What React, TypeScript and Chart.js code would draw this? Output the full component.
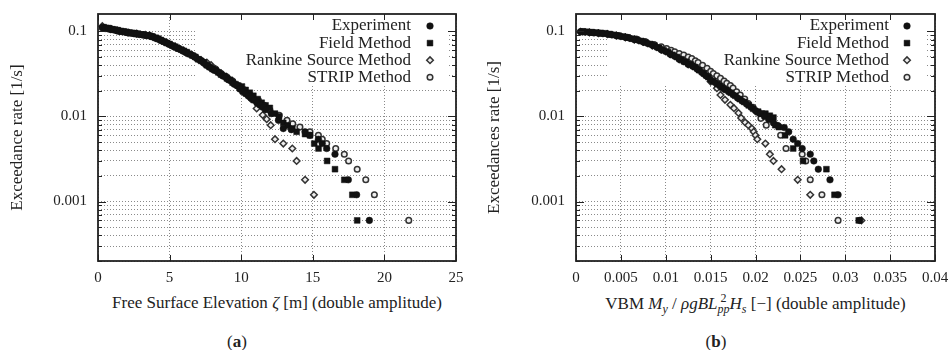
import React, { useEffect, useRef } from 'react';
import { Chart, registerables } from 'chart.js';

Chart.register(...registerables);

const FONT = '"Liberation Serif", "Times New Roman", serif';
const TEXT = '#222';
const GRID = '#8a8a8a';

// ---- axes ----
const X_TICKS_A = [0, 5, 10, 15, 20, 25];
const X_TICKS_B = [0, 0.005, 0.01, 0.015, 0.02, 0.025, 0.03, 0.035, 0.04];
const Y_MIN = 0.0002;
const Y_MAX = 0.16;
const Y_LABELS = [0.001, 0.01, 0.1];
const Y_GRID = [
  0.0002, 0.0003, 0.0004, 0.0005, 0.0006, 0.0007, 0.0008, 0.0009,
  0.001, 0.002, 0.003, 0.004, 0.005, 0.006, 0.007, 0.008, 0.009,
  0.01, 0.02, 0.03, 0.04, 0.05, 0.06, 0.07, 0.08, 0.09, 0.1,
];

const SERIES_NAMES = ['Experiment', 'Field Method', 'Rankine Source Method', 'STRIP Method'];

// ---- panel (a): free surface elevation ----
const EXP_A_X = [0.3, 0.5, 0.7, 0.9, 1.1, 1.3, 1.5, 1.7, 1.9, 2.1, 2.3, 2.5, 2.7, 2.9, 3.1, 3.3, 3.5, 3.7, 3.9, 4.1, 4.3, 4.5, 4.7, 4.9, 5.1, 5.3, 5.5, 5.7, 5.9, 6.1, 6.3, 6.5, 6.7, 6.9, 7.1, 7.3, 7.5, 7.7, 7.9, 8.1, 8.3, 8.5, 8.7, 8.9, 9.1, 9.3, 9.5, 9.7, 9.9, 10.1, 10.3, 10.5, 10.7, 10.9, 11.1, 11.3, 11.5, 11.7, 12.1, 12.6, 12.94, 13.5, 14.46, 14.8, 15.39, 15.66, 15.97, 16.55, 17.48, 18.06, 18.95];
const EXP_A_Y = [0.110, 0.108, 0.107, 0.105, 0.104, 0.102, 0.100, 0.099, 0.098, 0.096, 0.095, 0.094, 0.093, 0.092, 0.091, 0.090, 0.089, 0.087, 0.085, 0.082, 0.080, 0.077, 0.074, 0.072, 0.069, 0.066, 0.064, 0.062, 0.059, 0.057, 0.055, 0.053, 0.051, 0.048, 0.046, 0.044, 0.041, 0.039, 0.037, 0.035, 0.034, 0.032, 0.030, 0.029, 0.027, 0.026, 0.024, 0.023, 0.021, 0.0195, 0.0185, 0.0174, 0.0164, 0.0155, 0.0144, 0.0136, 0.0128, 0.0120, 0.0108, 0.0090, 0.0072, 0.0070, 0.0066, 0.0060, 0.0054, 0.0048, 0.0042, 0.0036, 0.0018, 0.0012, 0.0006];

const FIELD_A_X = [0.4, 0.6, 0.8, 1.0, 1.2, 1.4, 1.6, 1.8, 2.0, 2.2, 2.4, 2.6, 2.8, 3.0, 3.2, 3.4, 3.6, 3.8, 4.0, 4.2, 4.4, 4.6, 4.8, 5.0, 5.2, 5.4, 5.6, 5.8, 6.0, 6.2, 6.4, 6.6, 6.8, 7.0, 7.2, 7.4, 7.6, 7.8, 8.0, 8.2, 8.4, 8.6, 8.8, 9.0, 9.2, 9.4, 9.6, 9.8, 10.05, 10.31, 10.6, 10.85, 11.15, 11.43, 11.7, 12.0, 12.36, 12.64, 12.94, 13.24, 13.57, 13.87, 14.46, 14.8, 15.1, 15.4, 16.0, 16.55, 17.2, 17.76, 18.1];
const FIELD_A_Y = [0.112, 0.110, 0.108, 0.106, 0.105, 0.103, 0.101, 0.100, 0.098, 0.097, 0.096, 0.095, 0.094, 0.092, 0.091, 0.090, 0.089, 0.087, 0.084, 0.082, 0.079, 0.076, 0.073, 0.071, 0.068, 0.066, 0.063, 0.061, 0.059, 0.057, 0.054, 0.052, 0.050, 0.047, 0.045, 0.043, 0.040, 0.038, 0.036, 0.035, 0.033, 0.031, 0.030, 0.028, 0.027, 0.025, 0.024, 0.023, 0.0225, 0.0205, 0.0190, 0.0175, 0.0160, 0.0145, 0.0135, 0.0126, 0.0108, 0.0100, 0.0084, 0.0078, 0.0072, 0.0066, 0.0062, 0.0060, 0.0048, 0.0042, 0.0030, 0.0024, 0.0018, 0.0012, 0.0006];

const RANK_A_X = [0.3, 0.9, 1.5, 2.1, 2.7, 3.3, 3.6, 4.2, 4.8, 5.4, 6.0, 6.6, 7.2, 7.6, 7.9, 8.2, 8.6, 9.0, 9.4, 9.92, 10.27, 10.7, 11.08, 11.5, 11.78, 12.06, 12.36, 12.94, 13.57, 13.87, 14.46, 15.08];
const RANK_A_Y = [0.115, 0.107, 0.101, 0.097, 0.094, 0.091, 0.090, 0.082, 0.074, 0.066, 0.059, 0.052, 0.046, 0.043, 0.040, 0.036, 0.032, 0.029, 0.026, 0.0220, 0.0192, 0.0160, 0.0124, 0.0104, 0.0093, 0.0079, 0.0054, 0.0048, 0.0042, 0.0030, 0.0018, 0.0012];

const STRIP_A_X = [0.35, 0.8, 1.4, 2.0, 2.6, 3.2, 3.8, 4.4, 5.0, 5.6, 6.2, 6.8, 7.4, 7.8, 8.2, 8.6, 9.0, 9.4, 9.8, 10.2, 10.6, 11.2, 11.6, 12.0, 12.66, 13.2, 13.6, 14.1, 14.8, 15.39, 15.66, 15.97, 16.6, 17.2, 17.5, 18.1, 18.7, 19.3, 21.7];
const STRIP_A_Y = [0.112, 0.107, 0.101, 0.097, 0.094, 0.091, 0.087, 0.078, 0.070, 0.063, 0.056, 0.050, 0.043, 0.040, 0.036, 0.032, 0.029, 0.026, 0.023, 0.0205, 0.0180, 0.0155, 0.0135, 0.0119, 0.0103, 0.0090, 0.0082, 0.0075, 0.0066, 0.0060, 0.0054, 0.0048, 0.0042, 0.0036, 0.0030, 0.0024, 0.0018, 0.0012, 0.0006];

// ---- panel (b): vertical bending moment ----
const EXP_B_X = [0.0005, 0.001, 0.0015, 0.002, 0.0025, 0.003, 0.0035, 0.004, 0.0045, 0.005, 0.0055, 0.006, 0.0065, 0.007, 0.0075, 0.008, 0.0085, 0.009, 0.0095, 0.01, 0.0105, 0.011, 0.0115, 0.012, 0.0125, 0.013, 0.0135, 0.014, 0.0145, 0.015, 0.0155, 0.016, 0.0165, 0.017, 0.0175, 0.018, 0.0185, 0.019, 0.0195, 0.02, 0.0205, 0.021, 0.0215, 0.022, 0.0225, 0.0232, 0.0237, 0.0242, 0.0247, 0.0252, 0.0261, 0.0265, 0.027, 0.0283, 0.0292, 0.0316];
const EXP_B_Y = [0.099, 0.098, 0.097, 0.096, 0.095, 0.094, 0.093, 0.091, 0.089, 0.087, 0.085, 0.083, 0.080, 0.078, 0.075, 0.072, 0.069, 0.065, 0.061, 0.058, 0.054, 0.051, 0.047, 0.044, 0.041, 0.039, 0.036, 0.033, 0.030, 0.027, 0.025, 0.023, 0.021, 0.0195, 0.018, 0.0165, 0.0152, 0.014, 0.0128, 0.0117, 0.0108, 0.0100, 0.0092, 0.0084, 0.0078, 0.0074, 0.0066, 0.0054, 0.0048, 0.0042, 0.0036, 0.0030, 0.0024, 0.0018, 0.0012, 0.0006];

const FIELD_B_X = [0.00075, 0.00125, 0.00175, 0.00225, 0.00275, 0.00325, 0.00375, 0.00425, 0.00475, 0.00525, 0.00575, 0.00625, 0.00675, 0.00725, 0.00775, 0.00825, 0.00875, 0.00925, 0.00975, 0.01025, 0.01075, 0.01125, 0.01175, 0.01225, 0.01275, 0.01325, 0.01375, 0.01425, 0.01475, 0.01525, 0.01575, 0.01625, 0.01675, 0.01725, 0.01775, 0.01825, 0.01875, 0.01925, 0.01975, 0.0203, 0.0207, 0.0211, 0.0216, 0.022, 0.0222, 0.0226, 0.0233, 0.0242, 0.0253, 0.0279, 0.0288, 0.0315];
const FIELD_B_Y = [0.100, 0.099, 0.098, 0.097, 0.096, 0.095, 0.093, 0.091, 0.089, 0.087, 0.085, 0.082, 0.080, 0.077, 0.074, 0.071, 0.068, 0.064, 0.060, 0.057, 0.053, 0.050, 0.047, 0.044, 0.041, 0.038, 0.035, 0.032, 0.029, 0.026, 0.024, 0.022, 0.0205, 0.019, 0.0175, 0.016, 0.0148, 0.0135, 0.0123, 0.0114, 0.0108, 0.0108, 0.0102, 0.0097, 0.0079, 0.0075, 0.0060, 0.0042, 0.0030, 0.0024, 0.0012, 0.0006];

const RANK_B_X = [0.0005, 0.0015, 0.0025, 0.0035, 0.0045, 0.0055, 0.0065, 0.0075, 0.0085, 0.0095, 0.0105, 0.0115, 0.0125, 0.0135, 0.0143, 0.015, 0.0157, 0.0161, 0.0166, 0.0172, 0.0176, 0.0181, 0.0184, 0.01885, 0.0192, 0.0196, 0.0198, 0.02, 0.0202, 0.0211, 0.0216, 0.022, 0.0229, 0.0247, 0.0261, 0.0318];
const RANK_B_Y = [0.099, 0.097, 0.095, 0.093, 0.089, 0.085, 0.080, 0.075, 0.068, 0.061, 0.054, 0.047, 0.041, 0.036, 0.031, 0.0257, 0.0215, 0.0179, 0.0157, 0.0137, 0.0125, 0.0110, 0.0096, 0.0085, 0.0079, 0.0072, 0.0066, 0.0060, 0.0054, 0.0048, 0.0036, 0.0030, 0.0024, 0.0018, 0.0012, 0.0006];

const STRIP_B_X = [0.0007, 0.0017, 0.0027, 0.0037, 0.0047, 0.0057, 0.0067, 0.0077, 0.0087, 0.0095, 0.0101, 0.0106, 0.011, 0.0115, 0.012, 0.0125, 0.0129, 0.0133, 0.0136, 0.0141, 0.0146, 0.015, 0.0153, 0.0157, 0.0161, 0.0165, 0.0168, 0.0172, 0.0175, 0.0179, 0.0183, 0.0188, 0.0192, 0.0197, 0.0202, 0.0206, 0.0212, 0.0228, 0.0234, 0.0252, 0.0256, 0.0261, 0.0274, 0.0292];
const STRIP_B_Y = [0.099, 0.097, 0.095, 0.092, 0.089, 0.085, 0.081, 0.076, 0.070, 0.066, 0.063, 0.060, 0.0577, 0.055, 0.0527, 0.050, 0.048, 0.045, 0.043, 0.040, 0.0368, 0.034, 0.032, 0.030, 0.028, 0.026, 0.0245, 0.023, 0.0215, 0.0195, 0.0179, 0.016, 0.0142, 0.0128, 0.0112, 0.0095, 0.0079, 0.0060, 0.0042, 0.0036, 0.0030, 0.0018, 0.0012, 0.0006];

// ---- marker styles (Experiment, Field, Rankine, STRIP) ----
const STYLES = [
  { style: 'circle', r: 3.3, fill: '#111', stroke: '#111', bw: 0.5, order: 0 },
  { style: 'rect', r: 4.1, fill: '#111', stroke: '#111', bw: 0.5, order: 1 },
  { style: 'rectRot', r: 3.3, fill: '#eeeeee', stroke: '#333', bw: 1.5, order: 2 },
  { style: 'circle', r: 2.8, fill: '#eeeeee', stroke: '#333', bw: 1.5, order: 3 },
];

function drawMarker(ctx: CanvasRenderingContext2D, s: any, x: number, y: number) {
  ctx.save();
  ctx.beginPath();
  if (s.style === 'circle') {
    ctx.arc(x, y, s.r, 0, Math.PI * 2);
  } else if (s.style === 'rect') {
    const h = s.r * Math.SQRT1_2;
    ctx.rect(x - h, y - h, 2 * h, 2 * h);
  } else {
    ctx.moveTo(x - s.r, y);
    ctx.lineTo(x, y - s.r);
    ctx.lineTo(x + s.r, y);
    ctx.lineTo(x, y + s.r);
    ctx.closePath();
  }
  ctx.fillStyle = s.fill;
  ctx.fill();
  ctx.lineWidth = s.bw;
  ctx.strokeStyle = s.stroke;
  ctx.stroke();
  ctx.restore();
}

const framePlugin = {
  id: 'frameLegend',
  beforeDatasetsDraw(chart: any, _args: any, o: any) {
    const ctx = chart.ctx;
    ctx.save();
    ctx.fillStyle = '#fff';
    ctx.fillRect(o.box.left, o.box.top, o.box.right - o.box.left, o.box.bottom - o.box.top);
    ctx.restore();
  },
  afterDraw(chart: any, _args: any, o: any) {
    const ctx = chart.ctx;
    const ca = chart.chartArea;
    ctx.save();
    ctx.font = `17px ${FONT}`;
    ctx.fillStyle = TEXT;
    ctx.textAlign = 'right';
    ctx.textBaseline = 'middle';
    SERIES_NAMES.forEach((name, i) => {
      const y = o.rowTop + i * o.rowGap;
      ctx.fillText(name, o.textRight, y);
      drawMarker(ctx, STYLES[i], o.markerX, y);
    });
    ctx.strokeStyle = '#222';
    ctx.lineWidth = 1;
    const xs = chart.scales.x;
    const ys = chart.scales.y;
    ctx.beginPath();
    o.xTicks.forEach((v: number) => {
      const px = Math.round(xs.getPixelForValue(v)) + 0.5;
      ctx.moveTo(px, ca.bottom);
      ctx.lineTo(px, ca.bottom - 6);
      ctx.moveTo(px, ca.top);
      ctx.lineTo(px, ca.top + 6);
    });
    Y_GRID.forEach((v) => {
      const py = Math.round(ys.getPixelForValue(v)) + 0.5;
      const len = Y_LABELS.includes(v) ? 8 : 4;
      ctx.moveTo(ca.left, py);
      ctx.lineTo(ca.left + len, py);
      ctx.moveTo(ca.right, py);
      ctx.lineTo(ca.right - len, py);
    });
    ctx.stroke();
    ctx.lineWidth = 1.8;
    ctx.strokeStyle = '#222';
    ctx.strokeRect(ca.left, ca.top, ca.right - ca.left, ca.bottom - ca.top);
    ctx.restore();
  },
};

type PanelSpec = {
  series: { x: number[]; y: number[] }[];
  xMin: number;
  xMax: number;
  xTicks: number[];
  padRight: number;
  yAxisWidth: number;
  yTitle: string;
  titlePad: number;
  legend: any;
};

function makeConfig(p: PanelSpec): any {
  return {
    type: 'scatter',
    data: {
      datasets: p.series.map((s, i) => ({
        label: SERIES_NAMES[i],
        data: s.x.map((x, j) => ({ x, y: s.y[j] })),
        pointStyle: STYLES[i].style,
        pointRadius: STYLES[i].r,
        pointHoverRadius: STYLES[i].r,
        backgroundColor: STYLES[i].fill,
        borderColor: STYLES[i].stroke,
        borderWidth: STYLES[i].bw,
        order: STYLES[i].order,
        showLine: false,
      })),
    },
    options: {
      animation: false,
      responsive: false,
      events: [],
      layout: { padding: { left: 0, top: 14, right: p.padRight, bottom: 0 } },
      plugins: {
        legend: { display: false },
        tooltip: { enabled: false },
        frameLegend: { ...p.legend, xTicks: p.xTicks },
      },
      scales: {
        x: {
          type: 'linear',
          min: p.xMin,
          max: p.xMax,
          afterBuildTicks: (s: any) => {
            s.ticks = p.xTicks.map((v) => ({ value: v }));
          },
          afterFit: (s: any) => {
            s.height = 29;
            s.paddingLeft = 0;
            s.paddingRight = 0;
            s.paddingTop = 0;
            s.paddingBottom = 0;
          },
          ticks: {
            autoSkip: false,
            maxRotation: 0,
            minRotation: 0,
            padding: 8,
            color: TEXT,
            font: { family: FONT, size: 15 },
            callback: (v: number) => String(v),
          },
          grid: { color: GRID, lineWidth: 1, drawTicks: false },
          border: { display: false, dash: [1, 2] },
        },
        y: {
          type: 'logarithmic',
          min: Y_MIN,
          max: Y_MAX,
          afterBuildTicks: (s: any) => {
            s.ticks = Y_GRID.map((v) => ({ value: v }));
          },
          afterFit: (s: any) => {
            s.width = p.yAxisWidth;
            s.paddingLeft = 0;
            s.paddingRight = 0;
            s.paddingTop = 0;
            s.paddingBottom = 0;
          },
          ticks: {
            autoSkip: false,
            padding: 11,
            color: TEXT,
            font: { family: FONT, size: 15 },
            callback: (v: number) => (Y_LABELS.includes(v) ? String(v) : ''),
          },
          title: {
            display: true,
            text: p.yTitle,
            color: TEXT,
            font: { family: FONT, size: 17 },
            padding: { top: p.titlePad, bottom: 0 },
          },
          grid: { color: GRID, lineWidth: 1, drawTicks: false },
          border: { display: false, dash: [1, 2] },
        },
      },
    },
    plugins: [framePlugin],
  };
}

const PANEL_A: PanelSpec = {
  series: [
    { x: EXP_A_X, y: EXP_A_Y },
    { x: FIELD_A_X, y: FIELD_A_Y },
    { x: RANK_A_X, y: RANK_A_Y },
    { x: STRIP_A_X, y: STRIP_A_Y },
  ],
  xMin: 0,
  xMax: 25,
  xTicks: X_TICKS_A,
  padRight: 18,
  yAxisWidth: 98,
  yTitle: 'Exceedance rate [1/s]',
  titlePad: 7,
  legend: { box: { left: 197, top: 15, right: 447, bottom: 85 }, rowTop: 26, rowGap: 17.1, textRight: 411, markerX: 430 },
};

const PANEL_B: PanelSpec = {
  series: [
    { x: EXP_B_X, y: EXP_B_Y },
    { x: FIELD_B_X, y: FIELD_B_Y },
    { x: RANK_B_X, y: RANK_B_Y },
    { x: STRIP_B_X, y: STRIP_B_Y },
  ],
  xMin: 0,
  xMax: 0.04,
  xTicks: X_TICKS_B,
  padRight: 13,
  yAxisWidth: 102,
  yTitle: 'Exceedances rate [1/s]',
  titlePad: 10,
  legend: { box: { left: 135, top: 15, right: 451, bottom: 85 }, rowTop: 26, rowGap: 17.1, textRight: 415, markerX: 433 },
};

function ChartPanel({ left, spec }: { left: number; spec: PanelSpec }) {
  const ref = useRef<HTMLCanvasElement>(null);
  useEffect(() => {
    const chart = new Chart(ref.current as HTMLCanvasElement, makeConfig(spec));
    return () => chart.destroy();
  }, [spec]);
  return (
    <canvas
      ref={ref}
      width={474}
      height={290}
      style={{ position: 'absolute', left, top: 0, width: 474, height: 290 }}
    />
  );
}

const sub: React.CSSProperties = { fontSize: 12, verticalAlign: -4, lineHeight: 0 };

export default function App() {
  return (
    <div
      style={{
        position: 'fixed',
        left: 0,
        top: 0,
        width: 948,
        height: 350,
        background: '#fff',
        overflow: 'hidden',
        fontFamily: FONT,
        color: TEXT,
      }}
    >
      <ChartPanel left={0} spec={PANEL_A} />
      <ChartPanel left={474} spec={PANEL_B} />
      <div style={{ position: 'absolute', left: 98, width: 358, top: 293, textAlign: 'center', fontSize: 17, lineHeight: '20px', whiteSpace: 'nowrap' }}>
        Free Surface Elevation <i>ζ</i> [m] (double amplitude)
      </div>
      <div style={{ position: 'absolute', left: 576, width: 359, top: 293, textAlign: 'center', fontSize: 17, lineHeight: '20px', whiteSpace: 'nowrap' }}>
        VBM <i>M</i><i style={sub}>y</i> / <i>ρgBL</i>
        <span style={{ display: 'inline-flex', flexDirection: 'column', verticalAlign: 7, fontSize: 12, lineHeight: '11px' }}>
          <span>2</span>
          <i>pp</i>
        </span>
        <i>H</i><i style={sub}>s</i> [−] (double amplitude)
      </div>
      <div style={{ position: 'absolute', left: 0, width: 474, top: 332, textAlign: 'center', fontSize: 17, lineHeight: '20px' }}>
        (<b>a</b>)
      </div>
      <div style={{ position: 'absolute', left: 479, width: 474, top: 332, textAlign: 'center', fontSize: 17, lineHeight: '20px' }}>
        (<b>b</b>)
      </div>
    </div>
  );
}
